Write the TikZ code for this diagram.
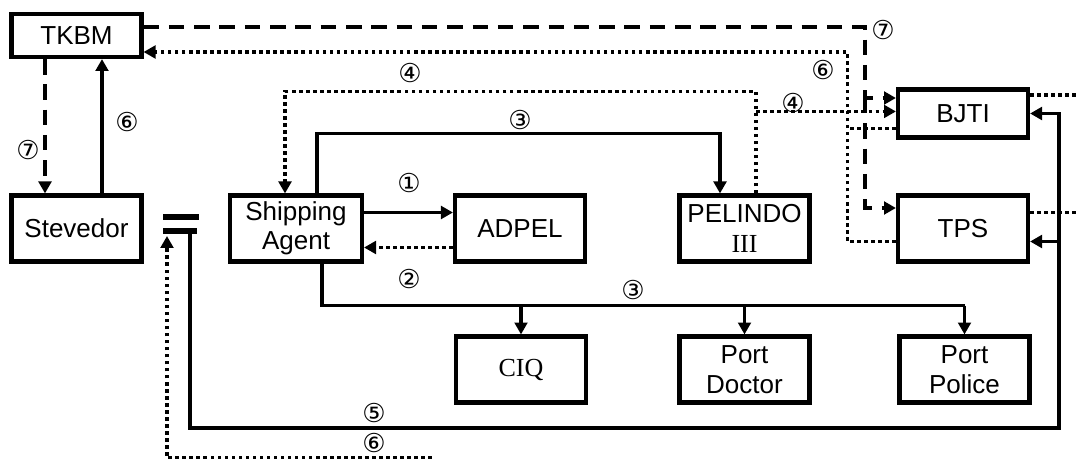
\documentclass[tikz,border=0pt]{standalone}
\usepackage{fontspec}
\setmainfont{Liberation Sans}
\newfontfamily\numfont{DejaVu Sans}
\newfontfamily\serfont{Liberation Serif}
\usetikzlibrary{calc,arrows.meta}

\begin{document}
\begin{tikzpicture}[
		x=0.025cm, y=-0.025cm,
		>={Triangle[length=8.5pt,width=9pt]},
		box/.style={draw, line width=2.9pt, minimum width=3.25cm, minimum height=1.65cm, inner sep=1pt, align=center, font=\fontsize{18.5}{21}\selectfont},
		num/.style={font=\numfont\fontsize{18.5}{18.5}\selectfont, inner sep=0pt},
		solidline/.style={line width=2.3pt},
		dotline/.style={line width=2.5pt, dash pattern=on 2.5pt off 2.5pt},
		dashline/.style={line width=2.3pt, dash pattern=on 11pt off 7pt}
		]
		
		\useasboundingbox (0,0) rectangle (1078,459);
		
		% ==========================================
		% BOXES
		% ==========================================
		\node[box, minimum height=1.075cm] (tkbm) at (76.5,35.5) {TKBM};
		\node[box] (stev) at (76.5,228.5) {Stevedor};
		\node[box, minimum width=3.3cm] (agent) at (296,228.5) {Shipping\\Agent};
		\node[box] (adpel) at (520,228.5) {ADPEL};
		\node[box] (pelindo) at (744.5,228.5) {PELINDO\\{\serfont III}};
		\node[box, minimum height=1.2cm] (bjti) at (963,113.5) {BJTI};
		\node[box] (tps) at (963,228.5) {TPS};
		\node[box] (ciq) at (521,369.5) {\serfont CIQ};
		\node[box] (doctor) at (744.5,369.5) {Port\\Doctor};
		\node[box] (police) at (964.5,369.5) {Port\\Police};
		
		% the gate mark left of the agent
		\coordinate (gate) at (180,224);
		\draw[line width=3.6pt] ($(gate)+(-17,-7)$) -- ++(36,0);
		\draw[line width=3.6pt] ($(gate)+(-17,7)$) -- ++(34,0);
		
		% ==========================================
		% TKBM <-> STEVEDOR
		% ==========================================
		\draw[dashline,->] ($(tkbm.south)+(-31.5,0)$) -- ($(stev.north)+(-31.5,0)$);
		\draw[solidline,->] ($(stev.north)+(25.5,0)$) -- ($(tkbm.south)+(25.5,0)$);
		
		% ==========================================
		% SHIPPING AGENT FLOWS
		% ==========================================
		\draw[solidline,->] ($(agent.east)+(0,-16)$) -- ($(adpel.west)+(0,-16)$);
		\draw[dotline,->] ($(adpel.west)+(0,19)$) -- ($(agent.east)+(0,19)$);
		\draw[solidline,->] ($(agent.north)+(21,0)$) -- ++(0,-60) -| ($(pelindo.north)+(-24.5,0)$);
		
		% bus down to the three offices
		\coordinate (bus) at ($(agent.south)+(26,42)$);
		\draw[solidline] ($(agent.south)+(26,0)$) -- (bus) -- (bus -| police.north);
		\foreach \b in {ciq, doctor, police} {
			\draw[solidline,->] (bus -| \b.north) -- (\b.north);
		}
		
		% PELINDO back to agent and on to BJTI
		\draw[dotline,->] ($(pelindo.north)+(11.5,0)$) -- ++(0,-102) -| ($(agent.north)+(-11,0)$);
		\coordinate (p4) at ($(pelindo.north)+(11.5,-82)$);
		\draw[dotline,->] (p4) -- (p4 -| bjti.west);
		
		% ==========================================
		% TKBM <-> BJTI / TPS
		% ==========================================
		\coordinate (d7) at ($(bjti.west)+(-31,-15.5)$);
		\draw[dashline,->] ($(tkbm.east)+(0,-8.5)$) -| (d7) -- (d7 -| bjti.west);
		\draw[dashline,->] (d7) |- ($(tps.west)+(0,-20.5)$);
		
		\coordinate (v6) at ($(tkbm.east)+(704,16.5)$);
		\draw[dotline,->] ($(tps.west)+(0,13)$) -| (v6) -- (v6 -| tkbm.east);
		\coordinate (b6) at ($(bjti.west)+(0,15)$);
		\draw[dotline] (b6) -- (b6 -| v6);
		
		% stubs leaving the picture on the right
		\draw[dotline] ($(bjti.east)+(0,-18.5)$) -- ++(60,0);
		\draw[dotline] ($(tps.east)+(0,-16)$) -- ++(60,0);
		
		% ==========================================
		% LOOP FROM THE GATE
		% ==========================================
		\coordinate (g5) at ($(gate)+(10,9)$);
		\coordinate (loopR) at (1059,428);
		\draw[solidline,->] (g5) |- (loopR) |- (bjti.east);
		\draw[solidline,->] ($(tps.east)+(29,13)$) -- ($(tps.east)+(0,13)$);
		
		\coordinate (g6) at ($(gate)+(-13,12)$);
		\coordinate (six) at (432,458);
		\draw[dotline,->] (six) -| (g6);
		
		% ==========================================
		% STEP NUMBERS
		% ==========================================
		\foreach \nm/\px/\py/\txt in {l7a/883/30/⑦, l6a/823/70/⑥, l4a/793/103/④, l4b/410/73/④,
			l3a/520/120/③, l1/409/183/①, l2/409/279/②, l3b/633/290/③,
			l5/374/413/⑤, l6b/374/443/⑥, l6c/127/122/⑥, l7b/28/150/⑦} {
			\node[num] (\nm) at (\px,\py) {\txt};
		}
		
	\end{tikzpicture}
\end{document}
